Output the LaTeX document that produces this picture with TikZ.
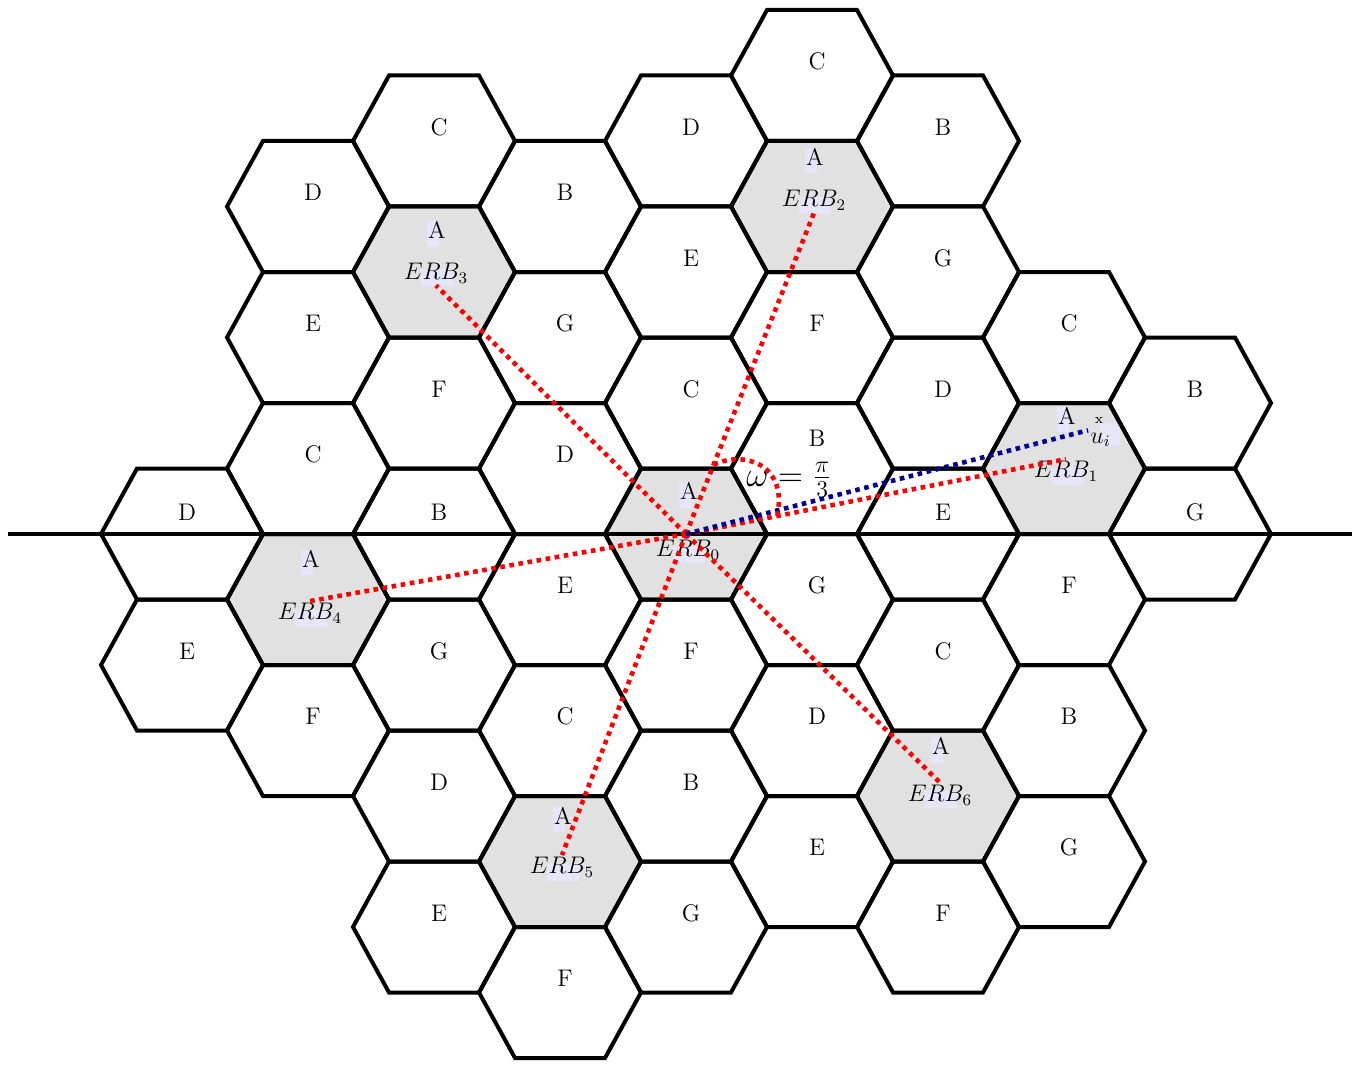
\documentclass[tikz,border=0pt]{standalone}
\usepackage{amsmath}
\usepackage{tikz}
\usetikzlibrary{calc, backgrounds}
\definecolor{ERBgray}{RGB}{225,225,225}
\definecolor{ERBred}{RGB}{255,0,0}
\definecolor{ERBnavy}{RGB}{0,0,150}
\definecolor{ERBlavender}{RGB}{230,230,250}
\tikzset{every node/.style={font=\large, inner sep=1pt}}

\begin{document}
\begin{tikzpicture}[
    x=0.5pt, y=-0.5pt,
    hexcell/.style={draw=black, line width=2pt},
    celltag/.style={text=black},
    linkdots/.style={draw=ERBred, line width=2.3pt, dash pattern=on 2.3pt off 2.3pt},
    userdots/.style={linkdots, draw=ERBnavy},
    hilite/.style={fill=ERBlavender}
]
\useasboundingbox (0,0) rectangle (1361,1065);

\foreach \k/\q/\r/\ay/\ey in {0/0/0/-43/16, 1/3/-2/-53/3, 2/1/-3/-50/-6, 3/-2/-1/-42/1, 4/-3/2/-41/14, 5/-1/3/-46/6, 6/2/1/-50/-1} {
    \coordinate (c\k) at ({686+126*\q}, {534+131*(\r+\q/2)});
    \draw[hexcell] (c\k) +(81,0) -- +(45,65.5) -- +(-45,65.5) -- +(-81,0) -- +(-45,-65.5) -- +(45,-65.5) -- cycle;
    \node[celltag] (a\k) at ($(c\k)+(3,\ay)$) {A};
    \node[celltag] (erb\k) at ($(c\k)+(2,\ey)$) {$ERB_\k$};
}

\foreach \k/\cq/\cr in {0/0/0, 1/3/-2, 2/1/-3, 3/-2/-1, 4/-3/2, 5/-1/3, 6/2/1}
    \foreach \dq/\dr/\lab in {0/-1/C, 1/-1/B, 1/0/G, 0/1/F, -1/1/E, -1/0/D} {
        \pgfmathsetmacro{\hq}{\cq+\dq}
        \pgfmathsetmacro{\hr}{\cr+\dr+\hq/2}
        \pgfmathsetmacro{\ty}{abs(\hr)<0.1 ? -22 : ((\k==0 && \dq==1 && \dr==-1) ? -30 : -14)}
        \draw[hexcell] ({686+126*\hq}, {534+131*\hr}) +(81,0) -- +(45,65.5) -- +(-45,65.5) -- +(-81,0) -- +(-45,-65.5) -- +(45,-65.5) -- cycle;
        \node[celltag] (\lab\k) at ({691+126*\hq}, {534+131*\hr+\ty}) {\lab};
    }

\draw[hexcell] (8,534) -- (1352,534);

\node (ui) [anchor=base west] at (1088,443) {$u_i$};
\node (uimark) [font=\scriptsize] at (1099,420) {x};
\node (omega) [font=\LARGE, inner sep=0pt] at (789,480) {$\omega = \frac{\pi}{3}$};

\foreach \k/\side in {1/north, 2/south, 3/south, 4/north, 5/north, 6/north}
    \draw[linkdots] (c0) -- (erb\k.\side);
\draw[userdots] (c0) -- (ui.north west);
\draw[linkdots] ($(c0)!0.216!(erb2.south)$) .. controls (745,450) and (788,465) .. ($(c0)!0.24!(erb1.north)$);

\begin{pgfonlayer}{background}
    \foreach \k in {0,...,6} {
        \fill[ERBgray] (c\k) +(81,0) -- +(45,65.5) -- +(-45,65.5) -- +(-81,0) -- +(-45,-65.5) -- +(45,-65.5) -- cycle;
        \fill[hilite] ([xshift=0.7pt, yshift=-1pt]a\k.north west) rectangle ([xshift=6.8pt, yshift=-2.8pt]a\k.south west);
        \fill[hilite] ([xshift=10pt, yshift=5pt]erb\k.base west) rectangle ([xshift=26pt, yshift=-3.5pt]erb\k.base west);
    }
    \fill[hilite] ([xshift=6pt, yshift=10pt]ui.base west) rectangle ([xshift=16pt, yshift=-1.5pt]ui.base west);
\end{pgfonlayer}
\end{tikzpicture}
\end{document}
